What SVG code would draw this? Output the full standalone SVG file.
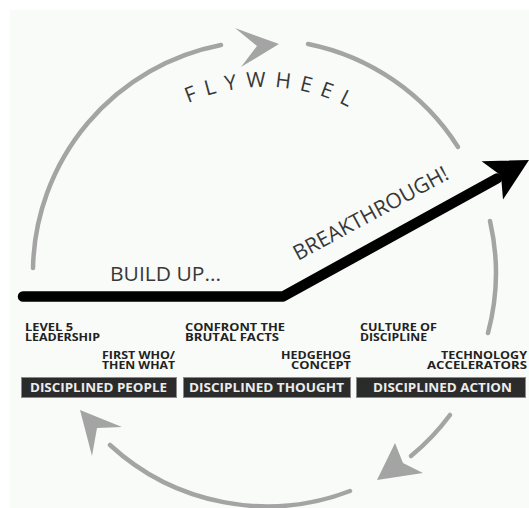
<svg xmlns="http://www.w3.org/2000/svg" width="529" height="508" viewBox="0 0 529 508">
  <style>
    .ring { fill: none; stroke: #a4a4a4; stroke-width: 4.5; stroke-linecap: round; }
    .head { fill: #a4a4a4; }
    .big { font-family: "Open Sans", "Liberation Sans", sans-serif; fill: #383838; }
    .lbl { font-family: "Open Sans", "Liberation Sans", sans-serif; font-weight: bold; font-size: 11px; fill: #222; }
    .bar { fill: #2b2b2b; stroke: #8a8a8a; stroke-width: 1; }
    .bartxt { font-family: "Open Sans", "Liberation Sans", sans-serif; font-weight: bold; font-size: 13px; fill: #ececec; text-anchor: middle; }
  </style>
  <defs>
    <path id="flyArc" d="M 89.2 209.4 A 186 186 0 0 1 438.8 209.4"/>
  </defs>

  <rect x="0" y="0" width="529" height="508" fill="#ffffff"/>
  <rect x="10" y="10" width="519" height="498" fill="#f9fbf9"/>

  <!-- flywheel ring: arcs and arrowheads -->
  <g id="connectors">
    <path class="ring" d="M 33 268 A 232 232 0 0 1 221 45"/>
    <polygon class="head" points="235,28 279,44 241,67 257,46"/>
    <path class="ring" d="M 308 44 A 232 232 0 0 1 458 147"/>
    <path class="ring" d="M 490 221 A 232 232 0 0 1 488 333"/>
    <path class="ring" d="M 450 415 A 232 232 0 0 1 411 456"/>
    <polygon class="head" points="395,443 403,463 423,473 377,480"/>
    <path class="ring" d="M 350 491 A 232 232 0 0 1 110 445"/>
    <polygon class="head" points="80,410 122,427 97,428 92,456"/>

    <!-- build-up line turning into breakthrough arrow -->
    <polyline points="23,296.5 283,296.5 497,178.5" fill="none" stroke="#000" stroke-width="10.5" stroke-linejoin="round" stroke-linecap="round"/>
    <polygon points="529,160 481.6,161.2 501,175.5 503,199.6" fill="#000"/>
  </g>

  <g id="flywheel-title">
    <text class="big" font-size="21" letter-spacing="9" fill="#4a4a4a">
      <textPath href="#flyArc" startOffset="52%" text-anchor="middle">FLYWHEEL</textPath>
    </text>
  </g>

  <g id="build-up">
    <text class="big" x="110" y="281" font-size="19.5" textLength="111" lengthAdjust="spacingAndGlyphs">BUILD UP...</text>
  </g>

  <g id="breakthrough">
    <text class="big" font-size="21" transform="translate(298,261) rotate(-28.5)" textLength="173" lengthAdjust="spacingAndGlyphs">BREAKTHROUGH!</text>
  </g>

  <g id="level5">
    <text class="lbl" x="25" y="331" textLength="48" lengthAdjust="spacingAndGlyphs">LEVEL 5</text>
    <text class="lbl" x="25" y="341" textLength="75" lengthAdjust="spacingAndGlyphs">LEADERSHIP</text>
  </g>
  <g id="first-who">
    <text class="lbl" x="102" y="359" textLength="73" lengthAdjust="spacingAndGlyphs">FIRST WHO/</text>
    <text class="lbl" x="102" y="369" textLength="73" lengthAdjust="spacingAndGlyphs">THEN WHAT</text>
  </g>
  <g id="brutal-facts">
    <text class="lbl" x="185" y="331" textLength="100" lengthAdjust="spacingAndGlyphs">CONFRONT THE</text>
    <text class="lbl" x="185" y="341" textLength="94" lengthAdjust="spacingAndGlyphs">BRUTAL FACTS</text>
  </g>
  <g id="hedgehog">
    <text class="lbl" x="281" y="359" textLength="70" lengthAdjust="spacingAndGlyphs">HEDGEHOG</text>
    <text class="lbl" x="291" y="369" textLength="60" lengthAdjust="spacingAndGlyphs">CONCEPT</text>
  </g>
  <g id="culture">
    <text class="lbl" x="360" y="331" textLength="77" lengthAdjust="spacingAndGlyphs">CULTURE OF</text>
    <text class="lbl" x="360" y="341" textLength="67" lengthAdjust="spacingAndGlyphs">DISCIPLINE</text>
  </g>
  <g id="technology">
    <text class="lbl" x="441" y="359" textLength="86" lengthAdjust="spacingAndGlyphs">TECHNOLOGY</text>
    <text class="lbl" x="427" y="369" textLength="100" lengthAdjust="spacingAndGlyphs">ACCELERATORS</text>
  </g>

  <g id="disciplined-people">
    <rect class="bar" x="21.5" y="377.5" width="155" height="20"/>
    <text class="bartxt" x="98.5" y="392" textLength="137" lengthAdjust="spacingAndGlyphs">DISCIPLINED PEOPLE</text>
  </g>
  <g id="disciplined-thought">
    <rect class="bar" x="183.5" y="377.5" width="167" height="20"/>
    <text class="bartxt" x="266.5" y="392" textLength="155" lengthAdjust="spacingAndGlyphs">DISCIPLINED THOUGHT</text>
  </g>
  <g id="disciplined-action">
    <rect class="bar" x="356.5" y="377.5" width="169" height="20"/>
    <text class="bartxt" x="442.5" y="392" textLength="139" lengthAdjust="spacingAndGlyphs">DISCIPLINED ACTION</text>
  </g>
</svg>
